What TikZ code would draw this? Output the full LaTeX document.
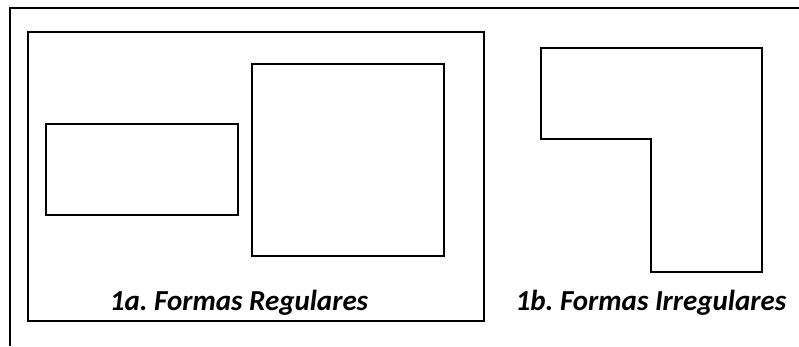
\documentclass[tikz,border=0pt]{standalone}
\usepackage{fontspec}
\setmainfont{Carlito}
\frenchspacing
\begin{document}
\begin{tikzpicture}[x=1pt,y=-1pt,
  outline/.style={draw=black,line width=1.5pt,line join=miter},
  lab/.style={font=\fontsize{29}{33}\selectfont\bfseries\itshape,anchor=base,inner sep=0pt}]
\useasboundingbox (0,0) rectangle (799,346);
\draw[outline] (10,346) -- (10,8) -- (799,8);
\draw[outline] (28,32) rectangle (484,321);
\draw[outline] (46,124) rectangle (238,215);
\draw[outline] (252,64) rectangle (444,256);
\draw[outline] (541,48) -- (762,48) -- (762,272) -- (651,272) -- (651,139) -- (541,139) -- cycle;
\node[lab] (la) at (239,310) {1a.\ Formas Regulares};
\node[lab] (lb) at (651,310) {1b.\ Formas Irregulares};
\end{tikzpicture}
\end{document}
